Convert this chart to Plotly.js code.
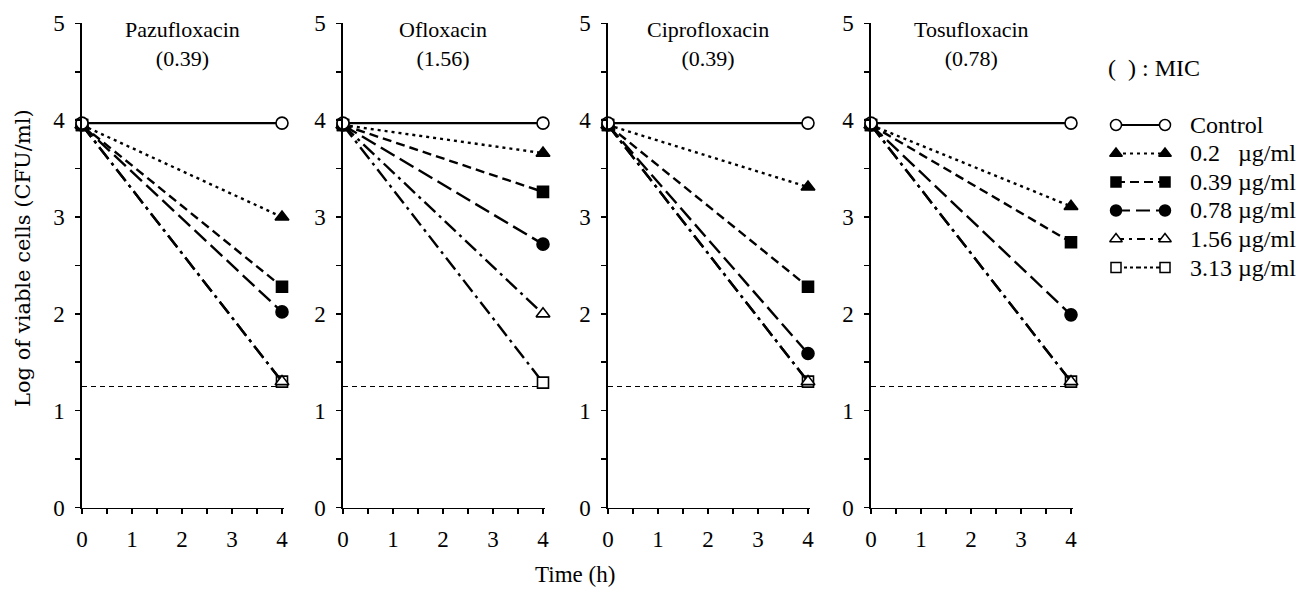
<!DOCTYPE html>
<html>
<head>
<meta charset="utf-8">
<script src="https://cdn.plot.ly/plotly-3.0.1.min.js"></script>
<style>html,body{margin:0;padding:0;background:#fff;}#chart{width:1307px;height:598px;}</style>
</head>
<body>
<div id="chart"></div>
<script>
// ---- data ----
const times = [0, 4];
const drugs = ['Pazufloxacin', 'Ofloxacin', 'Ciprofloxacin', 'Tosufloxacin'];
const mics = ['(0.39)', '(1.56)', '(0.39)', '(0.78)'];
const seriesLabels = ['Control', '0.2\u2007 \u00b5g/ml', '0.39 \u00b5g/ml', '0.78 \u00b5g/ml', '1.56 \u00b5g/ml', '3.13 \u00b5g/ml'];
const startLog = [3.97, 3.95, 3.95, 3.95, 3.95, 3.95];
const pazufloxacinEnd  = [3.97, 3.00, 2.28, 2.02, 1.30, 1.30];
const ofloxacinEnd     = [3.97, 3.66, 3.26, 2.72, 2.00, 1.29];
const ciprofloxacinEnd = [3.97, 3.31, 2.28, 1.59, 1.30, 1.30];
const tosufloxacinEnd  = [3.97, 3.11, 2.74, 1.99, 1.30, 1.30];
const detectionLimit = 1.25;
const xTicks = [0, 1, 2, 3, 4];
const yTicks = [0, 1, 2, 3, 4, 5];

// ---- styles ----
const endValues = [pazufloxacinEnd, ofloxacinEnd, ciprofloxacinEnd, tosufloxacinEnd];
const markerSymbols = ['circle-open', 'triangle-up', 'square', 'circle', 'triangle-up-open', 'square-open'];
const markerSizes = [12, 12, 11, 12, 12, 11];
const dashes = ['solid', '3px,4px', '9px,5px', '16px,6px', '15px,5px,3px,5px', '15px,5px,3px,5px'];
const legendDashes = ['solid', '3px,4px', '9px,5px', '14px,6px', '8px,5px,3px,5px', '5px,3px,3px,3px,3px,3px'];
const drawOrder = [5, 4, 3, 2, 1, 0];

const W = 1307, H = 598;
const axisLeftPx = [82, 343, 608, 871];
const panelWidthPx = 202;
const xMax = 4.04;
const yBottomPx = 507.5, yTopPx = 23.4;
const serif = 'Liberation Serif, Times New Roman, serif';
const wideSerif = 'DejaVu Serif, serif';

const traces = [];
const layout = {
  width: W, height: H,
  margin: {l: 0, r: 0, t: 0, b: 0},
  paper_bgcolor: '#fff', plot_bgcolor: 'rgba(0,0,0,0)',
  showlegend: false,
  font: {family: serif, size: 20, color: '#000'},
  annotations: [], shapes: []
};
const yDomain = [(H - yBottomPx) / H, (H - yTopPx) / H];

drugs.forEach((drug, p) => {
  const xa = p === 0 ? 'x' : 'x' + (p + 1);
  const ya = p === 0 ? 'y' : 'y' + (p + 1);
  // detection limit line
  traces.push({
    type: 'scatter', mode: 'lines', x: times, y: [detectionLimit, detectionLimit],
    xaxis: xa, yaxis: ya, cliponaxis: false,
    line: {color: '#000', width: 1.2, dash: '5px,4px'}, hoverinfo: 'skip'
  });
  drawOrder.forEach(s => {
    const open = markerSymbols[s].indexOf('open') >= 0;
    traces.push({
      type: 'scatter', mode: 'lines+markers',
      x: times, y: [startLog[s], endValues[p][s]],
      xaxis: xa, yaxis: ya, cliponaxis: false,
      line: {color: '#000', width: 2.4, dash: dashes[s]},
      marker: {symbol: open ? markerSymbols[s].replace('-open', '') : markerSymbols[s],
               size: markerSizes[s], color: open ? '#fff' : '#000',
               line: {color: '#000', width: 1.6}},
      hoverinfo: 'skip'
    });
  });
  const dom = [axisLeftPx[p] / W, (axisLeftPx[p] + panelWidthPx) / W];
  const axBase = {
    showline: true, linecolor: '#000', linewidth: 1.6, showgrid: false, zeroline: false,
    ticks: 'outside', ticklen: 5, tickwidth: 1.6, tickcolor: '#000',
    tickfont: {family: serif, size: 23, color: '#000'}, fixedrange: true
  };
  layout[p === 0 ? 'xaxis' : 'xaxis' + (p + 1)] = Object.assign({}, axBase, {
    domain: dom, range: [0, xMax], anchor: ya, tickvals: xTicks, ticklabelstandoff: 5,
    minor: {dtick: 0.5, tick0: 0, ticks: 'outside', ticklen: 5, tickwidth: 1.6, tickcolor: '#000'}
  });
  layout[p === 0 ? 'yaxis' : 'yaxis' + (p + 1)] = Object.assign({}, axBase, {
    domain: yDomain, range: [0, 5], anchor: xa, tickvals: yTicks, ticklabelstandoff: 6,
    minor: {dtick: 0.5, tick0: 0, ticks: 'outside', ticklen: 5, tickwidth: 1.6, tickcolor: '#000'}
  });
  layout.annotations.push({
    xref: xa, yref: 'paper', x: 2, y: 1 - 44 / H, xanchor: 'center', yanchor: 'middle',
    text: drug + '<br>' + mics[p], showarrow: false,
    font: {family: serif, size: 22, color: '#000'}
  });
});

// custom legend (marker-line-marker) on a hidden axis pair
const nRows = seriesLabels.length;
const legTopPx = 125, legStepPx = 28.5;
layout.xaxis5 = {domain: [1116 / W, 1165 / W], range: [0, 1], visible: false, fixedrange: true};
layout.yaxis5 = {domain: [(H - (legTopPx + (nRows - 0.5) * legStepPx)) / H, (H - (legTopPx - 0.5 * legStepPx)) / H],
                 range: [nRows - 0.5, -0.5], visible: false, fixedrange: true, anchor: 'x5'};
seriesLabels.forEach((lab, s) => {
  const open = markerSymbols[s].indexOf('open') >= 0;
  traces.push({
    type: 'scatter', mode: 'lines+markers', x: [0, 1], y: [s, s], xaxis: 'x5', yaxis: 'y5',
    cliponaxis: false,
    line: {color: '#000', width: 2.2, dash: legendDashes[s]},
    marker: {symbol: open ? markerSymbols[s].replace('-open', '') : markerSymbols[s],
             size: markerSizes[s] - 1, color: open ? '#fff' : '#000', line: {color: '#000', width: 1.5}},
    hoverinfo: 'skip'
  });
  layout.annotations.push({
    xref: 'paper', yref: 'y5', x: 1188 / W, y: s, xanchor: 'left', yanchor: 'middle',
    text: lab, showarrow: false, font: {family: serif, size: 24, color: '#000'}
  });
});
layout.annotations.push({
  xref: 'paper', yref: 'paper', x: 1106 / W, y: 1 - 68 / H, xanchor: 'left', yanchor: 'middle',
  text: '(\u2002) : MIC', showarrow: false, font: {family: serif, size: 24, color: '#000'}
});
// axis titles
layout.annotations.push({
  xref: 'paper', yref: 'paper', x: 23 / W, y: 1 - 258 / H, xanchor: 'center', yanchor: 'middle',
  text: 'Log of viable cells (CFU/ml)', textangle: -90, showarrow: false,
  font: {family: wideSerif, size: 21, color: '#000'}
});
layout.annotations.push({
  xref: 'paper', yref: 'paper', x: 575 / W, y: 1 - 574 / H, xanchor: 'center', yanchor: 'middle',
  text: 'Time (h)', showarrow: false, font: {family: serif, size: 23, color: '#000'}
});

Plotly.newPlot('chart', traces, layout, {staticPlot: true, displayModeBar: false});
</script>
</body>
</html>
